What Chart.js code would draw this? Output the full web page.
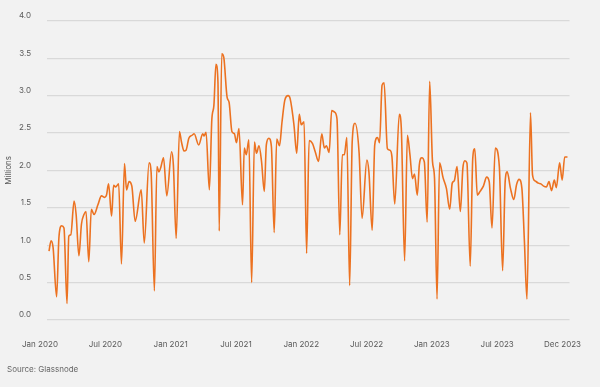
<!DOCTYPE html>
<html lang="en">

<head>
    <meta charset="UTF-8">
    <title>Active addresses</title>
    <script src="https://cdn.jsdelivr.net/npm/chart.js"></script>
    <style>
        body {
            margin: 0;
            background: #f2f2f2;
        }

        .chartBox {
            position: relative;
            width: 600px;
            height: 387px;
        }

        #source {
            position: absolute;
            left: 7px;
            top: 364px;
            font: 8px Inter, sans-serif;
            color: #666;
        }
    </style>
</head>

<body>
    <div class="chartBox">
        <canvas id="myChart"></canvas>
        <div id="source">Source: Glassnode</div>
    </div>
    <script>
        // weeks since start of Jan 2020, values in millions
        const weeks = [
            0.0, 0.8, 1.6, 3.0, 3.9, 5.0, 5.9, 7.1, 7.8, 8.6, 9.9, 10.7, 11.8, 12.8, 13.8, 14.6, 15.7, 16.7, 17.8, 19.3,
            20.7, 22.0, 22.7, 23.5, 24.7, 25.5, 26.3, 27.5, 28.6, 29.8, 30.6, 31.6, 32.7, 34.0, 36.4, 37.6, 39.5, 40.3,
            41.6, 42.6, 43.4, 44.2, 45.2, 46.5, 48.4, 49.1, 50.2, 51.5, 52.3, 53.3, 54.1, 55.2, 56.5, 57.3, 59.1, 60.7,
            61.2, 62.0, 63.3, 64.3, 65.1, 65.9, 66.7, 67.2, 68.2, 69.0, 70.3, 71.1, 72.2, 73.2, 74.0, 75.0, 76.4, 77.1,
            77.9, 78.9, 80.0, 81.1, 81.9, 82.9, 83.9, 85.0, 85.8, 86.8, 87.8, 88.9, 89.9, 91.0, 92.0, 93.1, 94.4, 95.2,
            96.7, 97.8, 98.8, 99.6, 100.7, 101.7, 102.7, 104.0, 105.1, 106.4, 107.7, 108.7, 109.5, 110.6, 111.6, 112.7,
            113.7, 114.8, 115.8, 116.6, 117.6, 118.7, 119.7, 120.8, 122.4, 123.6, 125.5, 126.3, 127.6, 128.6, 129.7,
            130.5, 131.5, 132.3, 133.6, 134.6, 135.4, 136.5, 138.3, 139.1, 140.4, 141.5, 142.5, 143.5, 144.3, 145.4,
            146.2, 147.2, 148.2, 149.3, 150.3, 151.4, 152.2, 153.2, 154.2, 155.6, 156.9, 158.2, 159.2, 160.0, 161.1,
            162.4, 163.4, 164.2, 165.0, 166.3, 167.3, 168.1, 169.1, 170.2, 171.5, 172.8, 173.8, 174.9, 176.2, 177.8,
            179.1, 180.1, 180.9, 182.2, 183.5, 184.6, 185.6, 186.7, 187.7, 188.7, 190.1, 190.9, 191.9, 193.2, 194.2,
            195.3, 196.4, 197.4, 198.4, 199.5, 200.3, 201.6, 202.6, 203.6, 204.7
        ];
        const values = [
            0.92, 1.06, 0.97, 0.31, 1.10, 1.26, 1.23, 0.22, 1.12, 1.14, 1.59, 1.41, 0.86, 1.28, 1.41, 1.45, 0.78, 1.48, 1.41, 1.54,
            1.66, 1.64, 1.67, 1.82, 1.39, 1.80, 1.78, 1.82, 0.75, 2.09, 1.74, 1.85, 1.79, 1.32, 1.74, 1.03, 2.10, 1.98,
            0.39, 2.05, 1.98, 2.05, 2.17, 1.66, 2.25, 2.07, 1.09, 2.52, 2.38, 2.26, 2.27, 2.43, 2.47, 2.49, 2.34, 2.49,
            2.46, 2.51, 1.74, 2.69, 2.87, 3.42, 3.18, 1.19, 3.56, 3.51, 2.98, 2.91, 2.52, 2.49, 2.37, 2.56, 1.54, 2.30,
            2.21, 2.41, 0.50, 2.38, 2.23, 2.33, 2.12, 1.72, 2.34, 2.43, 2.32, 1.17, 2.42, 2.33, 2.65, 2.94, 3.00, 2.96,
            2.61, 2.23, 2.75, 2.61, 2.65, 0.89, 2.40, 2.36, 2.25, 2.12, 2.49, 2.30, 2.33, 2.24, 2.80, 2.78,
            2.69, 1.14, 2.21, 2.21, 2.44, 0.46, 2.38, 2.63, 2.25, 1.36, 2.14, 1.98, 1.20, 2.34, 2.44,
            2.37, 3.14, 3.17, 2.29, 2.27, 2.18, 1.55, 2.75, 2.56, 0.79, 2.47, 2.21, 1.89, 1.95, 1.67,
            2.07, 2.17, 2.11, 1.31, 3.19, 2.12, 1.90, 0.28, 2.10, 1.90, 1.76, 1.48, 1.83, 1.86, 2.05,
            1.45, 2.03, 2.13, 2.10, 0.72, 2.16, 2.29, 1.67, 1.72, 1.79, 1.91, 1.85, 1.23, 2.30, 2.05,
            0.66, 1.85, 1.98, 1.76, 1.61, 1.81, 1.88, 1.76, 1.05, 0.28, 2.77, 1.94, 1.86, 1.83, 1.82,
            1.79, 1.78, 1.85, 1.73, 1.87, 1.77, 2.10, 1.87, 2.18, 2.18
        ];
        const xLabels = ['Jan 2020', 'Jul 2020', 'Jan 2021', 'Jul 2021', 'Jan 2022', 'Jul 2022', 'Jan 2023', 'Jul 2023', 'Dec 2023'];
        const yTicks = [0, 0.5, 1, 1.5, 2, 2.5, 3, 3.5, 4];

        const points = weeks.map((w, i) => ({ x: w, y: values[i] }));
        const textColor = '#5a5a5a';
        const font = { family: 'Inter', size: 8 };

        new Chart(document.getElementById('myChart'), {
            type: 'line',
            data: {
                datasets: [{
                    data: points,
                    xAxisID: 'x',
                    borderColor: '#ec7221',
                    borderWidth: 1.6,
                    pointRadius: 0,
                    cubicInterpolationMode: 'monotone',
                    fill: false
                }]
            },
            options: {
                responsive: true,
                maintainAspectRatio: false,
                animation: false,
                layout: { padding: { top: 20, right: 27, bottom: 37, left: 0 } },
                plugins: { legend: { display: false }, tooltip: { enabled: false } },
                scales: {
                    x: {
                        type: 'linear',
                        display: false,
                        min: -0.8,
                        max: 205.5
                    },
                    xl: {
                        type: 'category',
                        position: 'bottom',
                        labels: xLabels,
                        offset: false,
                        grid: { display: false },
                        border: { display: false },
                        ticks: {
                            color: textColor,
                            font: font,
                            padding: 12,
                            labelOffset: -7,
                            maxRotation: 0,
                            autoSkip: false
                        },
                        afterFit: (s) => { s.height = 30; }
                    },
                    y: {
                        min: 0,
                        max: 4,
                        afterBuildTicks: (s) => { s.ticks = yTicks.map(v => ({ value: v })); },
                        grid: { color: '#d9d9d9', lineWidth: 1.2, drawTicks: false },
                        border: { display: false },
                        ticks: {
                            color: textColor,
                            font: font,
                            padding: 16,
                            labelOffset: -5,
                            callback: (v) => v.toFixed(1)
                        },
                        title: {
                            display: true,
                            text: 'Millions',
                            color: textColor,
                            font: font
                        },
                        afterFit: (s) => { s.width = 47; }
                    }
                }
            }
        });
    </script>
</body>

</html>
